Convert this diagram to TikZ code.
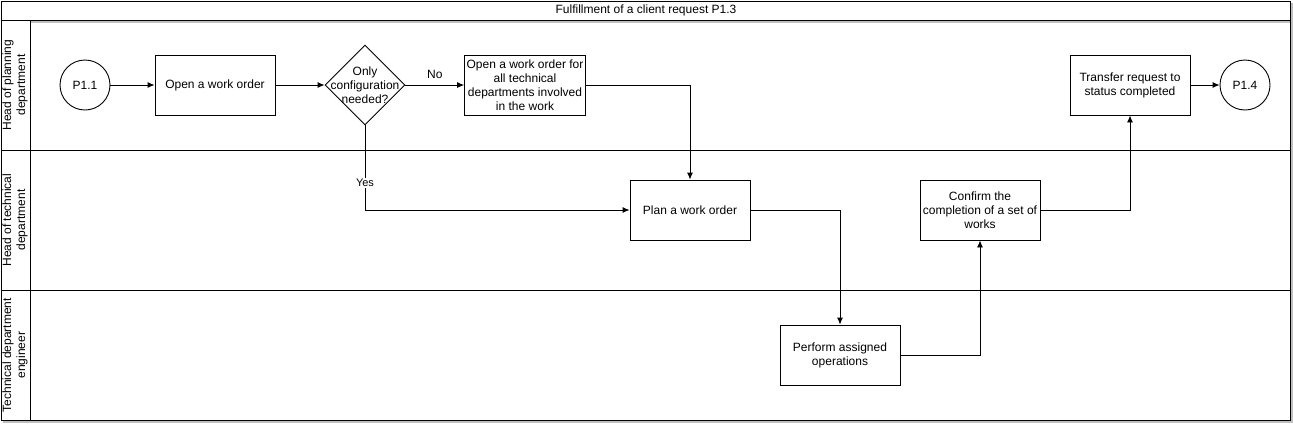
\documentclass[tikz,border=0pt]{standalone}
\usepackage{fontspec}
\setmainfont{Liberation Sans}
\usetikzlibrary{shapes.geometric,arrows.meta}

\tikzset{
  box/.style={draw,line width=0.9pt,minimum width=120pt,minimum height=60pt,align=center,inner sep=2pt},
  circ/.style={draw,circle,line width=0.9pt,minimum size=50pt,inner sep=0pt},
  decision/.style={draw,diamond,line width=0.9pt,minimum width=80pt,minimum height=80pt,inner sep=0pt},
  flow/.style={line width=0.9pt,-{Latex[length=7pt,width=6pt]}},
  lanetext/.style={rotate=90,align=center}
}

\begin{document}
\begin{tikzpicture}[x=1pt,y=-1pt,font=\fontsize{12}{14}\selectfont]
  \useasboundingbox (0,0) rectangle (1293,424);
  % shadow
  \draw[black!25,line width=1.6pt] (31,22) -- (1290,22);
  \draw[black!25,line width=1.6pt] (1292,3) -- (1292,422) -- (3,422);
  % pool and lanes
  \draw[line width=1pt] (1,1) rectangle (1290,420);
  \draw[line width=1pt] (1,20) -- (1290,20);
  \draw[line width=1pt] (1,150) -- (1290,150);
  \draw[line width=1pt] (1,290) -- (1290,290);
  \draw[line width=1pt] (30,20) -- (30,420);
  \node (title) at (646,10.5) {Fulfillment of a client request P1.3};
  \node[lanetext] (lane1) at (15,85) {Head of planning\\department};
  \node[lanetext] (lane2) at (15,220) {Head of technical\\department};
  \node[lanetext] (lane3) at (15,355) {Technical department\\engineer};

  % steps
  \node[circ] (p11) at (85,85) {P1.1};
  \node[box] (open) at (215,85) {Open a work order};
  \node[decision,label={[align=center]center:Only\\configuration\\needed?}] (conf) at (365,85) {};
  \node[box] (alltech) at (525,85) {Open a work order for\\all technical\\departments involved\\in the work};
  \node[box] (plan) at (690,210) {Plan a work order};
  \node[box] (perform) at (840,355) {Perform assigned\\operations};
  \node[box] (confirm) at (980,210) {Confirm the\\completion of a set of\\works};
  \node[box] (transfer) at (1130,85) {Transfer request to\\status completed};
  \node[circ] (p14) at (1245,85) {P1.4};

  % connectors
  \draw[flow] (p11) -- (open);
  \draw[flow] (open) -- (conf);
  \draw[flow] (conf) -- node[above=3pt] {No} (alltech);
  \draw[flow] (conf.south) |- node[pos=0.34,fill=white,inner sep=1pt,font=\fontsize{11}{13}\selectfont] {Yes} (plan);
  \draw[flow] (alltech.east) -| (plan.north);
  \draw[flow] (plan.east) -| (perform.north);
  \draw[flow] (perform.east) -| (confirm.south);
  \draw[flow] (confirm.east) -| (transfer.south);
  \draw[flow] (transfer) -- (p14);
\end{tikzpicture}
\end{document}
